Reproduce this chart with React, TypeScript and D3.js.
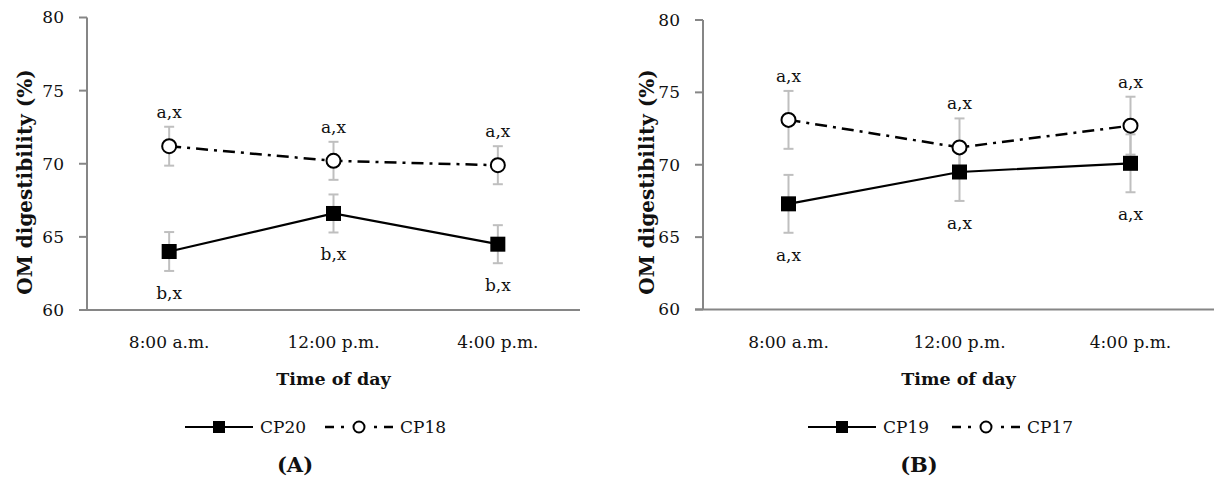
import React from 'react';
import * as d3 from 'd3';

// categories and ticks
const times = ['8:00 a.m.', '12:00 p.m.', '4:00 p.m.'];
const yTicks = [60, 65, 70, 75, 80];

// panel A
const cp20 = [64.0, 66.6, 64.5];
const cp20Err = [1.33, 1.3, 1.3];
const cp20Labels = ['b,x', 'b,x', 'b,x'];
const cp18 = [71.2, 70.2, 69.9];
const cp18Err = [1.33, 1.3, 1.3];
const cp18Labels = ['a,x', 'a,x', 'a,x'];

// panel B
const cp19 = [67.3, 69.5, 70.1];
const cp19Err = [2.0, 2.0, 2.0];
const cp19Labels = ['a,x', 'a,x', 'a,x'];
const cp17 = [73.1, 71.2, 72.7];
const cp17Err = [2.0, 2.0, 2.0];
const cp17Labels = ['a,x', 'a,x', 'a,x'];

const FONT = '"DejaVu Serif", "Liberation Serif", serif';
const AXIS = '#868686';
const ERR = '#bfbfbf';
const DASH = '12 6 3 6';
const INK = '#111';

const panels = [
  {
    tag: '(A)',
    x0: 87, x1: 580, yTop: 17.5, yBot: 310, titleX: 25,
    solid: { name: 'CP20', vals: cp20, err: cp20Err, labels: cp20Labels },
    dashed: { name: 'CP18', vals: cp18, err: cp18Err, labels: cp18Labels },
    legend: { solidX: 185, dashX: 325, tagX: 295 },
  },
  {
    tag: '(B)',
    x0: 703, x1: 1216, yTop: 20, yBot: 309.5, titleX: 647,
    solid: { name: 'CP19', vals: cp19, err: cp19Err, labels: cp19Labels },
    dashed: { name: 'CP17', vals: cp17, err: cp17Err, labels: cp17Labels },
    legend: { solidX: 808, dashX: 952, tagX: 919 },
  },
];

const Panel = ({ p }) => {
  const x = d3.scaleBand().domain(times).range([p.x0, p.x1]);
  const y = d3.scaleLinear().domain([60, 80]).range([p.yBot, p.yTop]);
  const cx = (i) => x(times[i]) + x.bandwidth() / 2;
  const line = d3.line().x((d, i) => cx(i)).y((d) => y(d));
  const series = [p.dashed, p.solid];
  const legY = 427;
  const legW = 68;
  const dMid = p.legend.dashX + legW / 2;

  return (
    <g>
      {/* axes */}
      <line x1={p.x0} x2={p.x0} y1={p.yTop} y2={p.yBot} stroke={AXIS} strokeWidth={2} />
      <line x1={p.x0 - 8} x2={p.x1} y1={p.yBot} y2={p.yBot} stroke={AXIS} strokeWidth={2} />
      {yTicks.map((t) => (
        <g key={t}>
          <line x1={p.x0 - 8} x2={p.x0} y1={y(t)} y2={y(t)} stroke={AXIS} strokeWidth={2} />
          <text x={p.x0 - 23} y={y(t)} dy="0.35em" textAnchor="end" fontSize={17} fill={INK}>
            {t}
          </text>
        </g>
      ))}
      {times.map((t, i) => (
        <text key={t} x={cx(i)} y={348} textAnchor="middle" fontSize={17} fill={INK}>
          {t}
        </text>
      ))}
      <text x={(p.x0 + Math.min(p.x1, 1214)) / 2} y={385} textAnchor="middle" fontSize={17.5} fontWeight="bold" fill={INK}>
        Time of day
      </text>
      <text
        transform={`translate(${p.titleX},182) rotate(-90)`}
        textAnchor="middle"
        dy="0.35em"
        fontSize={20}
        fontWeight="bold"
        fill={INK}
      >
        OM digestibility (%)
      </text>

      {/* error bars */}
      {series.map((s) =>
        s.vals.map((v, i) => (
          <g key={s.name + i} stroke={ERR} strokeWidth={2}>
            <line x1={cx(i)} x2={cx(i)} y1={y(v + s.err[i])} y2={y(v - s.err[i])} />
            <line x1={cx(i) - 5} x2={cx(i) + 5} y1={y(v + s.err[i])} y2={y(v + s.err[i])} />
            <line x1={cx(i) - 5} x2={cx(i) + 5} y1={y(v - s.err[i])} y2={y(v - s.err[i])} />
          </g>
        ))
      )}

      {/* lines */}
      <path d={line(p.dashed.vals)} fill="none" stroke="#000" strokeWidth={2.5} strokeDasharray={DASH} />
      <path d={line(p.solid.vals)} fill="none" stroke="#000" strokeWidth={2.2} />

      {/* markers */}
      {p.dashed.vals.map((v, i) => (
        <circle key={'c' + i} cx={cx(i)} cy={y(v)} r={7} fill="#fff" stroke="#000" strokeWidth={2} />
      ))}
      {p.solid.vals.map((v, i) => (
        <rect key={'s' + i} x={cx(i) - 7.5} y={y(v) - 7.5} width={15} height={15} fill="#000" />
      ))}

      {/* letter labels */}
      {p.dashed.vals.map((v, i) => (
        <text key={'la' + i} x={cx(i)} y={y(v + p.dashed.err[i]) - 9} textAnchor="middle" fontSize={17} fill={INK}>
          {p.dashed.labels[i]}
        </text>
      ))}
      {p.solid.vals.map((v, i) => (
        <text key={'lb' + i} x={cx(i)} y={y(v - p.solid.err[i]) + 28} textAnchor="middle" fontSize={17} fill={INK}>
          {p.solid.labels[i]}
        </text>
      ))}

      {/* legend */}
      <line x1={p.legend.solidX} x2={p.legend.solidX + legW} y1={legY} y2={legY} stroke="#000" strokeWidth={2.2} />
      <rect x={p.legend.solidX + legW / 2 - 6} y={legY - 6} width={12} height={12} fill="#000" />
      <text x={p.legend.solidX + legW + 7} y={legY} dy="0.35em" fontSize={17} fill={INK}>
        {p.solid.name}
      </text>
      <line x1={p.legend.dashX} x2={dMid - 6} y1={legY} y2={legY} stroke="#000" strokeWidth={2.5} strokeDasharray="9 7 3 40" />
      <line x1={p.legend.dashX + legW} x2={dMid + 6} y1={legY} y2={legY} stroke="#000" strokeWidth={2.5} strokeDasharray="9 7 3 40" />
      <circle cx={dMid} cy={legY} r={5.5} fill="#fff" stroke="#000" strokeWidth={2} />
      <text x={p.legend.dashX + legW + 7} y={legY} dy="0.35em" fontSize={17} fill={INK}>
        {p.dashed.name}
      </text>
      <text x={p.legend.tagX} y={472} textAnchor="middle" fontSize={21} fontWeight="bold" fill={INK}>
        {p.tag}
      </text>
    </g>
  );
};

export default function App() {
  return (
    <div style={{ position: 'absolute', left: 0, top: 0 }}>
      <svg width={1214} height={484} style={{ display: 'block', background: '#fff', fontFamily: FONT }}>
        {panels.map((p) => (
          <Panel key={p.tag} p={p} />
        ))}
      </svg>
    </div>
  );
}
